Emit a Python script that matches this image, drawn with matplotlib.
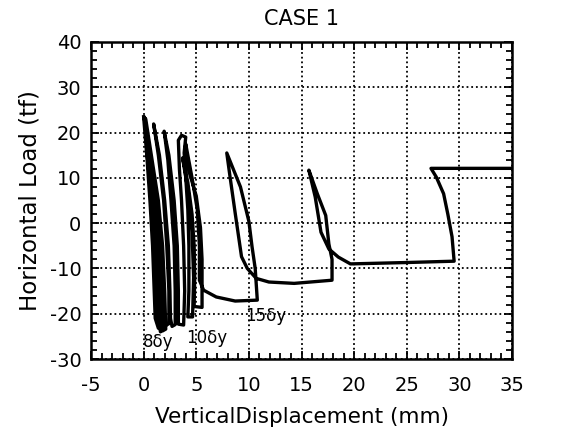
import matplotlib
matplotlib.use("Agg")
import matplotlib.pyplot as plt
from matplotlib.ticker import MultipleLocator

plt.rcParams["axes.unicode_minus"] = False

# Vertical displacement (mm) and horizontal load (tf)
disp = [0.0,
        0.3, 0.6, 0.85, 1.0, 1.1, 1.4, 1.7, 1.6, 1.4, 1.0, 0.5, 0.1,
        0.45, 0.85, 1.15, 1.3, 1.45, 1.8, 2.1, 2.0, 1.8, 1.4, 0.8, 0.2,
        0.35, 0.75, 1.0, 1.2, 1.35, 1.6, 1.9, 1.85, 1.6, 1.2, 0.6, 0.05,
        0.6, 1.1, 1.45, 1.65, 1.8, 2.1, 2.4, 2.4, 2.2, 1.9, 1.4, 0.95,
        1.5, 2.0, 2.35, 2.5, 2.55, 2.7, 3.0, 3.0, 2.9, 2.6, 2.3, 1.95,
        2.4, 2.9, 3.2, 3.3, 3.3, 3.8, 3.9, 3.8, 3.6, 3.4, 3.3, 3.6, 4.0,
        3.85, 4.0, 4.2, 4.3, 4.3, 4.2, 4.65, 4.75, 4.6, 4.3, 3.7,
        4.2, 4.6, 4.8, 4.85, 4.8, 5.55, 5.55, 5.4, 5.0, 4.3, 3.9, 4.0,
        4.6, 5.1, 5.3, 5.3, 5.7, 6.9, 8.7, 10.8,
        10.6, 10.3, 10.0, 9.2, 7.9,
        8.2, 8.7, 9.3, 9.85, 10.7, 11.9, 14.3, 17.9,
        17.9, 17.6, 17.3, 16.5, 15.7,
        16.3, 16.85, 17.6, 18.5, 19.65, 24.9, 29.5,
        29.3, 28.9, 28.5, 27.8, 27.3, 36.0]
load = [23.5,
        15.0, 5.0, -5.0, -15.0, -21.0, -23.2, -22.8, -15.0, -5.0, 5.0, 15.0, 23.3,
        15.0, 5.0, -5.0, -15.0, -21.0, -23.8, -23.4, -15.0, -5.0, 5.0, 14.0, 23.0,
        15.0, 5.0, -5.0, -15.0, -21.0, -24.0, -23.0, -15.0, -5.0, 5.0, 15.0, 23.4,
        15.0, 5.0, -5.0, -15.0, -21.0, -22.6, -22.2, -15.0, -5.0, 5.0, 15.0, 21.9,
        15.0, 5.0, -5.0, -15.0, -21.0, -22.8, -22.4, -15.0, -5.0, 5.0, 14.0, 20.3,
        15.0, 5.0, -5.0, -15.0, -22.3, -22.5, -15.0, -5.0, 5.0, 12.0, 18.3, 19.4, 19.0,
        15.5, 10.0, 3.0, -5.0, -15.0, -20.7, -20.7, -12.0, -2.0, 6.0, 14.4,
        9.0, 2.0, -5.0, -12.0, -18.4, -18.6, -8.0, -1.0, 6.0, 11.5, 15.0, 17.5,
        10.0, 3.0, -5.0, -12.6, -14.8, -16.3, -17.2, -17.0,
        -10.0, -5.2, 0.4, 8.0, 15.5,
        10.4, 2.2, -7.4, -10.0, -12.2, -13.0, -13.3, -12.6,
        -8.0, -4.6, 1.7, 6.5, 11.7,
        5.8, -2.0, -5.7, -7.5, -9.0, -8.7, -8.4,
        -3.0, 2.0, 6.5, 10.2, 12.1, 12.1]

cycle_labels = ["8δy", "10δy", "15δy"]
x_ticks = [-5, 0, 5, 10, 15, 20, 25, 30, 35]
y_ticks = [-30, -20, -10, 0, 10, 20, 30, 40]

fig = plt.figure(figsize=(5.61, 4.43), dpi=100)
ax = fig.add_axes([0.1622, 0.1896, 0.7505, 0.7156])

ax.plot(disp, load, color="black", linewidth=2.4, solid_joinstyle="round",
        clip_on=True, zorder=3)

ax.set_xlim(-5, 35)
ax.set_ylim(-30, 40)
ax.set_xticks(x_ticks)
ax.set_yticks(y_ticks)
ax.xaxis.set_minor_locator(MultipleLocator(1))
ax.yaxis.set_minor_locator(MultipleLocator(2))
ax.tick_params(which="both", direction="in", top=True, right=True,
               color="black", width=1.3)
ax.tick_params(which="major", length=6, labelsize=14)
ax.tick_params(which="minor", length=4)
ax.tick_params(axis="x", which="major", pad=12)
ax.tick_params(axis="y", which="major", pad=7)
for s in ax.spines.values():
    s.set_linewidth(1.8)

ax.grid(True, which="major", color="black", linestyle=(0, (1, 1.6)),
        linewidth=1.3)

label_pos = [(1.4, -26.2), (6.0, -25.3), (11.6, -20.5)]
for t, (lx, ly) in zip(cycle_labels, label_pos):
    ax.text(lx, ly, t, fontsize=12, ha="center", va="center", color="black",
            zorder=4)

ax.set_title("CASE 1", fontsize=15, pad=12)
ax.set_xlabel("VerticalDisplacement (mm)", fontsize=15.5, labelpad=9)
ax.set_ylabel("Horizontal Load (tf)", fontsize=16.5, labelpad=6)

fig.savefig("out.png", dpi=100)
